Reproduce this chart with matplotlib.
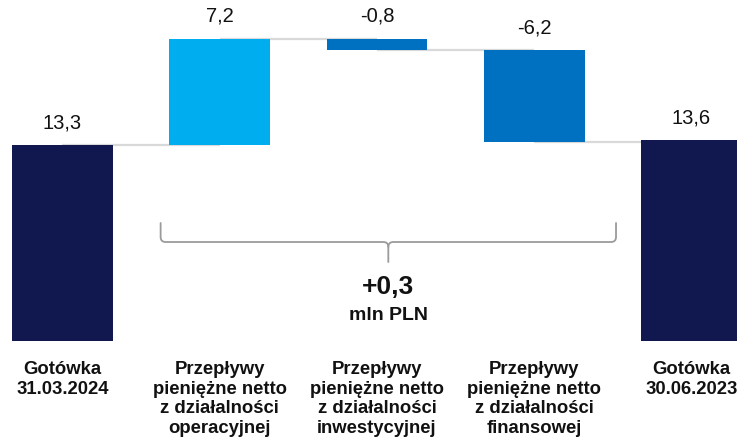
import matplotlib
matplotlib.use("Agg")
import matplotlib.pyplot as plt
from matplotlib.path import Path
from matplotlib.patches import PathPatch
import numpy as np

plt.rcParams['font.family'] = ['Liberation Sans', 'DejaVu Sans']

# ---- data ----
categories = [
    "Gotówka\n31.03.2024",
    "Przepływy\npieniężne netto\nz działalności\noperacyjnej",
    "Przepływy\npieniężne netto\nz działalności\ninwestycyjnej",
    "Przepływy\npieniężne netto\nz działalności\nfinansowej",
    "Gotówka\n30.06.2023",
]
values = [13.3, 7.2, -0.8, -6.2, 13.6]
kinds = ["total", "delta", "delta", "delta", "total"]
value_labels = ["13,3", "7,2", "-0,8", "-6,2", "13,6"]
net_change_label = "+0,3"
unit_label = "mln PLN"

colors = ["#11174f", "#00adef", "#0070c0", "#0070c0", "#11174f"]

# ---- layout ----
W, H, DPI = 737, 440, 100
px_x = 157.25          # pixels per category step
px_y = 14.75           # pixels per unit
x0_px = 62.5           # centre of first bar (px from left)
y0_px = 341.0          # baseline (px from top)
bar_w = 0.642

fig = plt.figure(figsize=(W / DPI, H / DPI), dpi=DPI)
ax = fig.add_axes([0, 0, 1, 1])
ax.set_xlim(-x0_px / px_x, (W - x0_px) / px_x)
ax.set_ylim(-(H - y0_px) / px_y, y0_px / px_y)
ax.axis("off")

x = np.arange(len(values))
bottoms, tops, levels = [], [], []
running = 0.0
for v, k in zip(values, kinds):
    if k == "total":
        b, t = 0.0, v
        running = v
    else:
        start = running
        running = running + v
        b, t = min(start, running), max(start, running)
    bottoms.append(b)
    tops.append(t)
    levels.append(running)
bottoms = np.array(bottoms)
tops = np.array(tops)

# connectors
for i in range(len(values) - 1):
    lvl = levels[i]
    ax.plot([x[i], x[i + 1]], [lvl, lvl], color="#d9d9d9", lw=1.6,
            zorder=1, solid_capstyle="butt")

ax.bar(x, tops - bottoms, bottom=bottoms, width=bar_w, color=colors, zorder=2)

for xi, t, lab in zip(x, tops, value_labels):
    ax.annotate(lab, (xi, t), xytext=(0, 16), textcoords="offset points",
                ha="center", va="center", fontsize=14.5, color="#111111")

# category labels
for xi, cat in zip(x, categories):
    ax.text(xi, (y0_px - 361) / px_y, cat, ha="center", va="top",
            fontsize=13.3, fontweight="bold", color="#111111", linespacing=1.2)

# brace
dx = 1.0 / px_x
dy = 1.0 / px_y
xl, xr = 0.624, 3.52
xm = (xl + xr) / 2
y_top = (y0_px - 223) * dy
y_h = (y0_px - 242) * dy
y_tip = (y0_px - 262) * dy
r = 5
verts = [
    (xl, y_top), (xl, y_h + r * dy),
    (xl, y_h), (xl + r * dx, y_h),
    (xm - r * dx, y_h),
    (xm, y_h), (xm, y_h - r * dy),
    (xm, y_tip),
]
codes = [Path.MOVETO, Path.LINETO, Path.CURVE3, Path.CURVE3, Path.LINETO,
         Path.CURVE3, Path.CURVE3, Path.LINETO]
verts2 = [
    (xr, y_top), (xr, y_h + r * dy),
    (xr, y_h), (xr - r * dx, y_h),
    (xm + r * dx, y_h),
    (xm, y_h), (xm, y_h - r * dy),
]
codes2 = [Path.MOVETO, Path.LINETO, Path.CURVE3, Path.CURVE3, Path.LINETO,
          Path.CURVE3, Path.CURVE3]
for vv, cc in ((verts, codes), (verts2, codes2)):
    ax.add_patch(PathPatch(Path(vv, cc), fill=False, edgecolor="#9b9b9b",
                           lw=1.3, zorder=3, capstyle="round"))

ax.text(xm, (y0_px - 286.5) * dy, net_change_label, ha="center", va="center",
        fontsize=19, fontweight="bold", color="#111111")
ax.text(xm, (y0_px - 315) * dy, unit_label, ha="center", va="center",
        fontsize=14, fontweight="bold", color="#111111")

fig.savefig("out.png", dpi=DPI)
